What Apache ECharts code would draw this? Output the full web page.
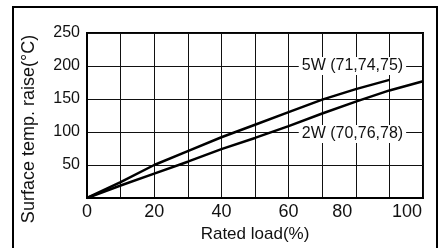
<!DOCTYPE html>
<html>
<head>
<meta charset="utf-8">
<script src="https://cdn.jsdelivr.net/npm/echarts@6/dist/echarts.min.js"></script>
<style>
  html, body { margin: 0; padding: 0; background: #fff; }
  #chart { width: 441px; height: 248px; }
</style>
</head>
<body>
<div id="chart"></div>
<script>
// load (%) sampled every 10
const loadPct = [0, 10, 20, 30, 40, 50, 60, 70, 80, 90, 100];
// surface temperature rise (°C)
const rise5W = [0, 24, 50, 71, 92, 111, 130, 149, 165, 179];
const rise2W = [0, 19, 37, 55, 74, 91, 109, 128, 146, 163, 177];
const xTicks = [0, 20, 40, 60, 80, 100];
const yTicks = [50, 100, 150, 200, 250];
// labels of the two curves
const label5W = '5W (71,74,75)';
const label2W = '2W (70,76,78)';

const pairs = (xs, ys) => ys.map((v, i) => [xs[i], v]);

const chart = echarts.init(document.getElementById('chart'));

const font = 'Liberation Sans, Arial, Helvetica, sans-serif';

chart.setOption({
  animation: false,
  backgroundColor: '#fff',
  grid: {
    left: 87, right: 18, top: 33, bottom: 46,
    show: true, borderColor: '#000', borderWidth: 2
  },
  graphic: [
    { // scanned outer frame
      type: 'rect', shape: { x: 13, y: 7, width: 424, height: 260 },
      style: { fill: null, stroke: '#000', lineWidth: 2 }, z: 10
    }
  ],
  xAxis: {
    type: 'value', min: 0, max: 100, interval: 10,
    name: 'Rated load(%)', nameLocation: 'middle', nameGap: 28,
    nameTextStyle: { color: '#111', fontSize: 17, fontFamily: font },
    axisLine: { lineStyle: { color: '#000', width: 2 } },
    axisTick: { show: false },
    splitLine: { lineStyle: { color: '#111', width: 1 } },
    axisLabel: {
      margin: 5, color: '#111', fontSize: 18, fontFamily: font,
      formatter: v => {
        if (!xTicks.includes(v)) return '';
        if (v === 80) return '{a|' + v + '}';
        if (v === 100) return '{b|' + v + '}';
        return String(v);
      },
      rich: {
        a: { fontSize: 18, fontFamily: font, color: '#111', padding: [0, 27, 0, 0] },
        b: { fontSize: 18, fontFamily: font, color: '#111', padding: [0, 32, 0, 0] }
      }
    }
  },
  yAxis: {
    type: 'value', min: 0, max: 250, interval: 50,
    name: 'Surface temp. raise(°C)', nameLocation: 'middle', nameGap: 49,
    nameTextStyle: { color: '#111', fontSize: 18, fontFamily: font, padding: [0, 27, 0, 0] },
    axisLine: { show: true, lineStyle: { color: '#000', width: 2 } },
    axisTick: { show: false },
    splitLine: { lineStyle: { color: '#111', width: 1 } },
    axisLabel: {
      margin: 7, color: '#111', fontSize: 16, fontFamily: font,
      formatter: v => yTicks.includes(v) ? String(v) : ''
    }
  },
  series: [
    {
      name: '5W', type: 'line', data: pairs(loadPct, rise5W),
      symbol: 'none', lineStyle: { color: '#000', width: 2.5 },
      markPoint: {
        symbol: 'rect', symbolSize: 0,
        label: {
          show: true, formatter: label5W, color: '#111', fontSize: 16, fontFamily: font,
          backgroundColor: '#fff', padding: [1, 3]
        },
        data: [{ coord: [79, 200] }]
      }
    },
    {
      name: '2W', type: 'line', data: pairs(loadPct, rise2W),
      symbol: 'none', lineStyle: { color: '#000', width: 2.5 },
      markPoint: {
        symbol: 'rect', symbolSize: 0,
        label: {
          show: true, formatter: label2W, color: '#111', fontSize: 16, fontFamily: font,
          backgroundColor: '#fff', padding: [1, 3]
        },
        data: [{ coord: [79, 97] }]
      }
    }
  ]
});
</script>
</body>
</html>
